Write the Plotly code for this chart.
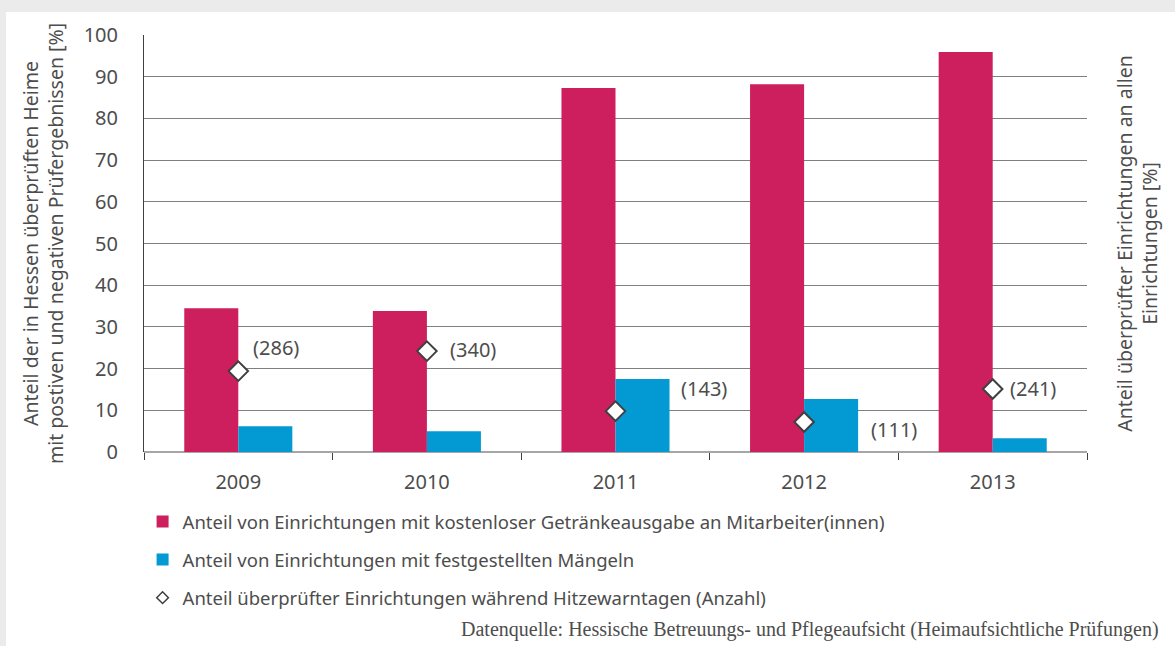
import plotly.graph_objects as go

years = ["2009", "2010", "2011", "2012", "2013"]
getraenke = [34.5, 33.8, 87.3, 88.2, 95.9]
maengel = [6.2, 5.0, 17.5, 12.7, 3.3]
hitze_anteil = [19.4, 24.2, 9.8, 7.2, 15.1]
hitze_anzahl = ["(286)", "(340)", "(143)", "(111)", "(241)"]
y_ticks = [0, 10, 20, 30, 40, 50, 60, 70, 80, 90, 100]

# label offsets in pixels (layout, not data)
label_dx = [38, 46, 88, 90, 40]
label_dy = [24, 2, 23, -8, 1]

PINK = "#cd1f5d"
BLUE = "#039ad3"
TXT = "#4d4d4d"
FONT = "Noto Sans, Open Sans, sans-serif"

fig = go.Figure()
fig.add_trace(go.Bar(
    x=years, y=getraenke, marker_color=PINK, marker_line_width=0,
    name="Anteil von Einrichtungen mit kostenloser Getränkeausgabe an Mitarbeiter(innen)",
    legendgroup="a", yaxis="y"))
fig.add_trace(go.Bar(
    x=years, y=maengel, marker_color=BLUE, marker_line_width=0,
    name="Anteil von Einrichtungen mit festgestellten Mängeln",
    legendgroup="b", yaxis="y"))
fig.add_trace(go.Scatter(
    x=years, y=hitze_anteil, mode="markers", yaxis="y2", showlegend=False,
    marker=dict(symbol="diamond", size=15, color="white",
                line=dict(color="#404040", width=2)),
    name="Anteil überprüfter Einrichtungen während Hitzewarntagen (Anzahl)",
    legendgroup="c"))
# legend entry with a smaller diamond
fig.add_trace(go.Scatter(
    x=[None], y=[None], mode="markers", yaxis="y2", showlegend=True,
    marker=dict(symbol="diamond", size=9, color="white",
                line=dict(color="#404040", width=1.5)),
    name="Anteil überprüfter Einrichtungen während Hitzewarntagen (Anzahl)",
    legendgroup="c"))

for i, (v, t, dx, dy) in enumerate(zip(hitze_anteil, hitze_anzahl, label_dx, label_dy)):
    fig.add_annotation(x=i, y=v, xref="x", yref="y2", text=t, showarrow=False,
                       xshift=dx, yshift=dy, font=dict(size=20, color=TXT, family=FONT))

fig.add_annotation(x=(1161 - 144) / 943, y=(452 - 643) / 417, xref="paper", yref="paper",
                   xanchor="right", yanchor="bottom", showarrow=False,
                   text="Datenquelle: Hessische Betreuungs- und Pflegeaufsicht (Heimaufsichtliche Prüfungen)",
                   font=dict(size=20, color=TXT, family="Liberation Serif, DejaVu Serif, serif"))

fig.add_shape(type="rect", xref="paper", yref="paper",
              x0=(6 - 144) / 943, x1=(1175 - 144) / 943,
              y0=(452 - 646) / 417, y1=(452 - 12) / 417,
              fillcolor="white", line_width=0, layer="below")

fig.update_layout(
    width=1175, height=646,
    margin=dict(l=144, r=88, t=35, b=194),
    paper_bgcolor="#ebebeb", plot_bgcolor="rgba(0,0,0,0)",
    barmode="group", bargap=0.427, bargroupgap=0,
    font=dict(family=FONT, size=18, color=TXT),
    showlegend=True,
    legend=dict(orientation="v", x=-0.0015, y=-0.1224, xanchor="left", yanchor="top",
                font=dict(size=18.5, color=TXT, family=FONT),
                tracegroupgap=11, itemwidth=30, bgcolor="rgba(0,0,0,0)",
                traceorder="grouped"),
    xaxis=dict(type="category", range=[-0.5, 4.5], showgrid=False, showline=False,
               zeroline=False, ticks="outside", tickson="boundaries", ticklen=7,
               tickcolor="#404040", tickangle=0,
               tickfont=dict(size=20, color=TXT), ticklabelstandoff=16),
    yaxis=dict(range=[0, 100], tickvals=y_ticks, showgrid=True, gridcolor="#7f7f7f",
               gridwidth=1, zeroline=True, zerolinecolor="#a6a6a6", zerolinewidth=2,
               showline=True, linecolor="#404040", linewidth=1, ticks="",
               tickfont=dict(size=20, color=TXT), ticklabelstandoff=21,
               title=dict(text="Anteil der in Hessen überprüften Heime<br>mit postiven und negativen Prüfergebnissen [%]",
                          font=dict(size=19.5, color=TXT), standoff=14)),
    yaxis2=dict(range=[0, 100], overlaying="y", side="right", showgrid=False,
                zeroline=False, showline=False, showticklabels=False, ticks="",
                title=dict(text="Anteil überprüfter Einrichtungen an allen<br>Einrichtungen [%]",
                           font=dict(size=19.5, color=TXT), standoff=31)),
)

fig.write_html("out.html", config={"displayModeBar": False},
               post_script="document.body.style.margin='0';document.body.style.background='#ebebeb';")
